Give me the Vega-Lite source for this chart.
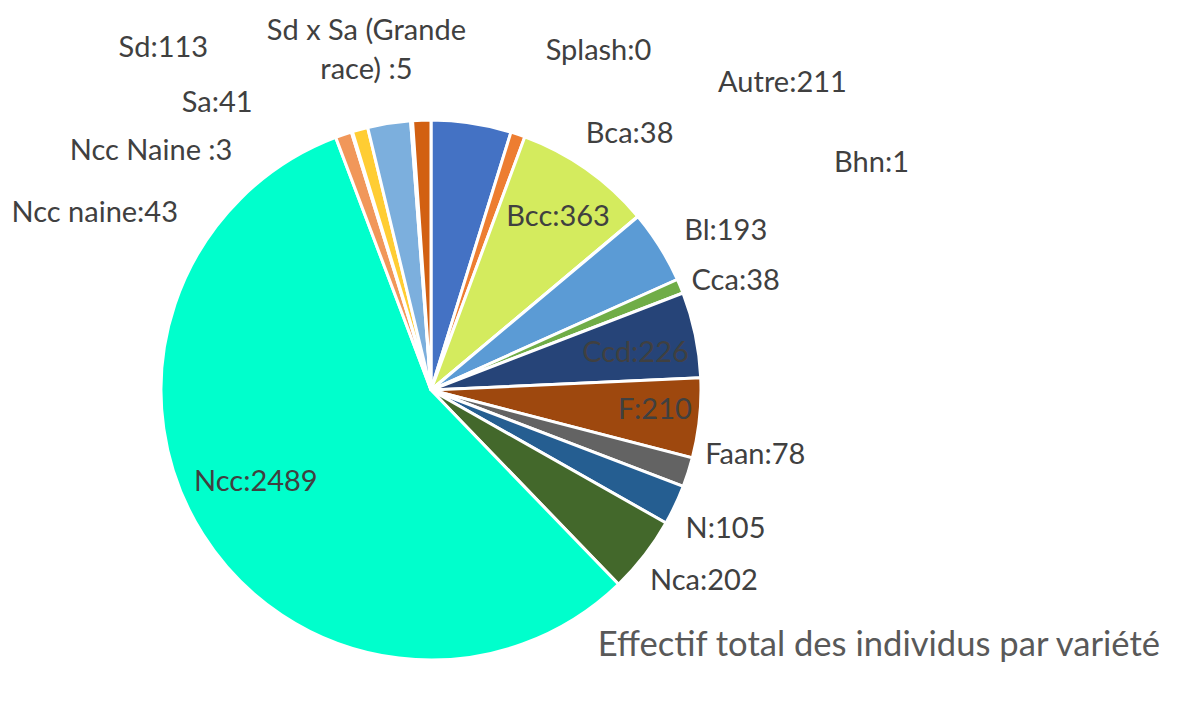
{
  "$schema": "https://vega.github.io/schema/vega-lite/v6.json",
  "width": 862,
  "height": 624,
  "autosize": {"type": "none"},
  "padding": {"left": 0, "top": 78, "right": 316, "bottom": 0},
  "background": "white",
  "config": {"view": {"stroke": null}, "text": {"font": "Lato"}},
  "title": {
    "text": "Effectif total des individus par variété",
    "orient": "bottom", "anchor": "end", "frame": "group", "offset": 0,
    "dx": 298, "dy": -46, "baseline": "alphabetic",
    "font": "Lato", "fontSize": 34.6, "fontWeight": "normal", "color": "#595959"
  },
  "data": {"values": [
    {"ordre": 1, "variete": "Autre", "effectif": 211, "etiquette": "Autre:211"},
    {"ordre": 2, "variete": "Bca", "effectif": 38, "etiquette": "Bca:38"},
    {"ordre": 3, "variete": "Bcc", "effectif": 363, "etiquette": "Bcc:363"},
    {"ordre": 4, "variete": "Bhn", "effectif": 1, "etiquette": "Bhn:1"},
    {"ordre": 5, "variete": "Bl", "effectif": 193, "etiquette": "Bl:193"},
    {"ordre": 6, "variete": "Cca", "effectif": 38, "etiquette": "Cca:38"},
    {"ordre": 7, "variete": "Ccd", "effectif": 226, "etiquette": "Ccd:226"},
    {"ordre": 8, "variete": "F", "effectif": 210, "etiquette": "F:210"},
    {"ordre": 9, "variete": "Faan", "effectif": 78, "etiquette": "Faan:78"},
    {"ordre": 10, "variete": "N", "effectif": 105, "etiquette": "N:105"},
    {"ordre": 11, "variete": "Nca", "effectif": 202, "etiquette": "Nca:202"},
    {"ordre": 12, "variete": "Ncc", "effectif": 2489, "etiquette": "Ncc:2489"},
    {"ordre": 13, "variete": "Ncc naine", "effectif": 43, "etiquette": "Ncc naine:43"},
    {"ordre": 14, "variete": "Ncc Naine ", "effectif": 3, "etiquette": "Ncc Naine :3"},
    {"ordre": 15, "variete": "Sa", "effectif": 41, "etiquette": "Sa:41"},
    {"ordre": 16, "variete": "Sd", "effectif": 113, "etiquette": "Sd:113"},
    {"ordre": 17, "variete": "Sd x Sa (Grande race) ", "effectif": 5, "etiquette": "Sd x Sa (Grande\nrace) :5"},
    {"ordre": 18, "variete": "Splash", "effectif": 0, "etiquette": "Splash:0"},
    {"ordre": 19, "variete": "Non étiqueté", "effectif": 48, "etiquette": ""}
  ]},
  "encoding": {
    "theta": {"field": "effectif", "type": "quantitative", "stack": true},
    "order": {"field": "ordre", "type": "quantitative"},
    "detail": {"field": "variete", "type": "nominal"}
  },
  "layer": [
    {
      "mark": {"type": "arc", "outerRadius": 270, "stroke": "white", "strokeWidth": 3},
      "encoding": {
        "color": {
          "field": "variete", "type": "nominal", "legend": null, "sort": null,
          "scale": {
            "domain": ["Autre", "Bca", "Bcc", "Bhn", "Bl", "Cca", "Ccd", "F", "Faan", "N", "Nca", "Ncc", "Ncc naine", "Ncc Naine ", "Sa", "Sd", "Sd x Sa (Grande race) ", "Splash", "Non étiqueté"],
            "range": ["#4472C4", "#ED7D31", "#D4EB5E", "#FFC000", "#5B9BD5", "#70AD47", "#264478", "#9E480E", "#636363", "#255E91", "#43682B", "#00FFCC", "#F1975A", "#B7B7B7", "#FFCD33", "#7CAFDD", "#8CC168", "#2F5597", "#D26012"]
          }
        }
      }
    },
    {"mark": {"type": "text", "radius": 310, "dx": 305, "dy": -1, "fontSize": 29, "fill": "#404040"},
     "encoding": {"text": {"condition": {"test": "datum.ordre === 1", "field": "etiquette"}, "value": ""}}},
    {"mark": {"type": "text", "radius": 300, "dx": 102, "dy": 28, "fontSize": 29, "fill": "#404040"},
     "encoding": {"text": {"condition": {"test": "datum.ordre === 2", "field": "etiquette"}, "value": ""}}},
    {"mark": {"type": "text", "radius": 212, "dx": 5, "dy": 0, "fontSize": 29, "fill": "#404040"},
     "encoding": {"text": {"condition": {"test": "datum.ordre === 3", "field": "etiquette"}, "value": ""}}},
    {"mark": {"type": "text", "radius": 400, "dx": 134, "dy": 30, "fontSize": 29, "fill": "#404040"},
     "encoding": {"text": {"condition": {"test": "datum.ordre === 4", "field": "etiquette"}, "value": ""}}},
    {"mark": {"type": "text", "radius": 330, "dx": 15, "dy": 16, "fontSize": 29, "fill": "#404040"},
     "encoding": {"text": {"condition": {"test": "datum.ordre === 5", "field": "etiquette"}, "value": ""}}},
    {"mark": {"type": "text", "radius": 330, "dx": 0, "dy": 18, "fontSize": 29, "fill": "#404040"},
     "encoding": {"text": {"condition": {"test": "datum.ordre === 6", "field": "etiquette"}, "value": ""}}},
    {"mark": {"type": "text", "radius": 212, "dx": -3, "dy": 6, "fontSize": 29, "fill": "#404040"},
     "encoding": {"text": {"condition": {"test": "datum.ordre === 7", "field": "etiquette"}, "value": ""}}},
    {"mark": {"type": "text", "radius": 212, "dx": 13, "dy": -2, "fontSize": 29, "fill": "#404040"},
     "encoding": {"text": {"condition": {"test": "datum.ordre === 8", "field": "etiquette"}, "value": ""}}},
    {"mark": {"type": "text", "radius": 330, "dx": 10, "dy": -36, "fontSize": 29, "fill": "#404040"},
     "encoding": {"text": {"condition": {"test": "datum.ordre === 9", "field": "etiquette"}, "value": ""}}},
    {"mark": {"type": "text", "radius": 330, "dx": -4, "dy": -2, "fontSize": 29, "fill": "#404040"},
     "encoding": {"text": {"condition": {"test": "datum.ordre === 10", "field": "etiquette"}, "value": ""}}},
    {"mark": {"type": "text", "radius": 330, "dx": 12, "dy": -11, "fontSize": 29, "fill": "#404040"},
     "encoding": {"text": {"condition": {"test": "datum.ordre === 11", "field": "etiquette"}, "value": ""}}},
    {"mark": {"type": "text", "radius": 212, "dx": 4, "dy": -21, "fontSize": 29, "fill": "#404040"},
     "encoding": {"text": {"condition": {"test": "datum.ordre === 12", "field": "etiquette"}, "value": ""}}},
    {"mark": {"type": "text", "radius": 300, "dx": -239, "dy": 107, "fontSize": 29, "fill": "#404040"},
     "encoding": {"text": {"condition": {"test": "datum.ordre === 13", "field": "etiquette"}, "value": ""}}},
    {"mark": {"type": "text", "radius": 300, "dx": -192, "dy": 48, "fontSize": 29, "fill": "#404040"},
     "encoding": {"text": {"condition": {"test": "datum.ordre === 14", "field": "etiquette"}, "value": ""}}},
    {"mark": {"type": "text", "radius": 300, "dx": -135, "dy": 2, "fontSize": 29, "fill": "#404040"},
     "encoding": {"text": {"condition": {"test": "datum.ordre === 15", "field": "etiquette"}, "value": ""}}},
    {"mark": {"type": "text", "radius": 300, "dx": -221, "dy": -46, "fontSize": 29, "fill": "#404040"},
     "encoding": {"text": {"condition": {"test": "datum.ordre === 16", "field": "etiquette"}, "value": ""}}},
    {"mark": {"type": "text", "radius": 300, "dx": -43, "dy": -60, "fontSize": 29, "fill": "#404040", "lineBreak": "\n", "lineHeight": 39},
     "encoding": {"text": {"condition": {"test": "datum.ordre === 17", "field": "etiquette"}, "value": ""}}},
    {"mark": {"type": "text", "radius": 300, "dx": 188, "dy": -40, "fontSize": 29, "fill": "#404040"},
     "encoding": {"text": {"condition": {"test": "datum.ordre === 18", "field": "etiquette"}, "value": ""}}}
  ]
}
